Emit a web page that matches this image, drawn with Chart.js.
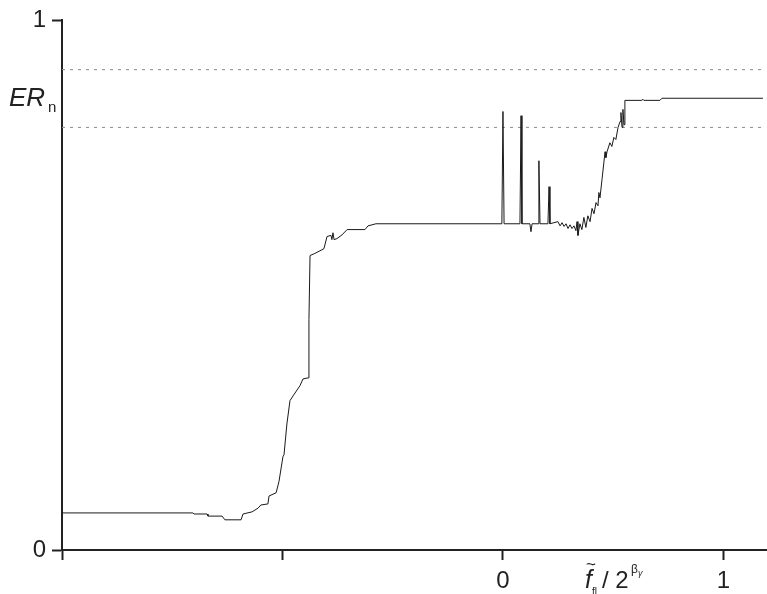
<!DOCTYPE html>
<html lang="en">
<head>
    <meta charset="UTF-8">
    <title>ER_n curve</title>
    <script src="https://cdn.jsdelivr.net/npm/chart.js"></script>
    <style>
        body { margin: 0; padding: 0; background: #fff; }
        #wrap { width: 767px; height: 594px; }
    </style>
</head>
<body>
<div id="wrap"><canvas id="chart" width="767" height="594"></canvas></div>
<script>
    // x values of the curve (in units of f/2^beta)
    const curveX = [
        -2.000, -1.406, -1.401, -1.342, -1.338, -1.274, -1.261, -1.188, -1.179, -1.138,
        -1.111, -1.098, -1.066, -1.061, -1.029, -1.016, -0.998, -0.993, -0.980, -0.966,
        -0.952, -0.921, -0.907, -0.884, -0.880, -0.875, -0.853, -0.830, -0.812, -0.798,
        -0.780, -0.776, -0.771, -0.766, -0.753, -0.730, -0.707, -0.626, -0.612, -0.576,
        -0.009, -0.005, 0.000, 0.005, 0.077, 0.082, 0.086, 0.122, 0.127, 0.132,
        0.159, 0.163, 0.168, 0.204, 0.209, 0.213, 0.249, 0.259, 0.268, 0.277,
        0.286, 0.295, 0.304, 0.313, 0.322, 0.331, 0.336, 0.340, 0.349, 0.358,
        0.367, 0.376, 0.385, 0.395, 0.404, 0.413, 0.422, 0.431, 0.435, 0.440,
        0.449, 0.458, 0.463, 0.467, 0.472, 0.485, 0.494, 0.503, 0.512, 0.522,
        0.531, 0.535, 0.540, 0.544, 0.549, 0.553, 0.630, 0.635, 0.639, 0.712,
        0.721, 1.179
    ];
    // ER_n values of the curve
    const curveY = [
        0.070, 0.070, 0.068, 0.068, 0.064, 0.064, 0.057, 0.057, 0.068, 0.072,
        0.079, 0.085, 0.087, 0.102, 0.108, 0.129, 0.176, 0.180, 0.238, 0.282,
        0.291, 0.310, 0.323, 0.325, 0.435, 0.556, 0.560, 0.565, 0.569, 0.592,
        0.594, 0.586, 0.599, 0.586, 0.588, 0.595, 0.605, 0.605, 0.612, 0.616,
        0.616, 0.616, 0.828, 0.616, 0.616, 0.820, 0.616, 0.616, 0.601, 0.616,
        0.616, 0.735, 0.616, 0.616, 0.686, 0.616, 0.620, 0.612, 0.618, 0.611,
        0.616, 0.607, 0.614, 0.607, 0.612, 0.603, 0.620, 0.594, 0.616, 0.605,
        0.628, 0.609, 0.631, 0.620, 0.645, 0.635, 0.656, 0.650, 0.675, 0.665,
        0.699, 0.733, 0.752, 0.741, 0.752, 0.769, 0.762, 0.779, 0.775, 0.798,
        0.809, 0.826, 0.798, 0.832, 0.803, 0.849, 0.849, 0.851, 0.849, 0.849,
        0.853, 0.853
    ];
    // dotted reference levels
    const refLevels = [0.907, 0.798];

    const xMin = -2, xMax = 1.193;
    const xTickLabels = { '0': '0', '1': '1' };
    const yTickLabels = { '0': '0', '1': '1' };

    const axisColor = '#222';
    const fontFamily = '"Liberation Sans", Arial, sans-serif';

    const datasets = [{
        data: curveX.map((x, i) => ({ x: x, y: curveY[i] })),
        borderColor: '#1a1a1a',
        borderWidth: 1,
        pointRadius: 0,
        showLine: true,
        tension: 0
    }];
    refLevels.forEach(v => {
        datasets.push({
            data: [{ x: xMin, y: v }, { x: xMax, y: v }],
            borderColor: '#8a8a8a',
            borderWidth: 1,
            borderDash: [3, 5],
            pointRadius: 0,
            showLine: true
        });
    });

    // axis titles drawn as text
    const titlePlugin = {
        id: 'titles',
        afterDraw(chart) {
            const ctx = chart.ctx;
            ctx.save();
            ctx.fillStyle = axisColor;
            ctx.textBaseline = 'alphabetic';
            // ER_n
            ctx.font = 'italic 26px ' + fontFamily;
            ctx.fillText('ER', 9, 106);
            ctx.font = '15px ' + fontFamily;
            ctx.fillText('n', 48, 112);
            // f~_fl / 2^(beta_gamma)
            ctx.font = 'italic 25px ' + fontFamily;
            ctx.fillText('f', 585, 588);
            ctx.font = '17px ' + fontFamily;
            ctx.fillText('~', 586, 570);
            ctx.font = '10px ' + fontFamily;
            ctx.fillText('fl', 592, 595);
            ctx.font = '24px ' + fontFamily;
            ctx.fillText('/ 2', 602, 588);
            ctx.font = '12px ' + fontFamily;
            ctx.fillText('\u03B2', 631, 573);
            ctx.font = 'italic 9px ' + fontFamily;
            ctx.fillText('\u03B3', 638, 576);
            ctx.restore();
        }
    };

    new Chart(document.getElementById('chart'), {
        type: 'scatter',
        data: { datasets: datasets },
        options: {
            responsive: false,
            animation: false,
            layout: { padding: { top: 20, right: 1, left: 0, bottom: 0 } },
            plugins: { legend: { display: false }, tooltip: { enabled: false } },
            scales: {
                x: {
                    type: 'linear',
                    min: xMin,
                    max: xMax,
                    border: { color: axisColor, width: 2 },
                    grid: { drawOnChartArea: false, drawTicks: true, tickLength: 10, tickWidth: 2, tickColor: axisColor },
                    ticks: {
                        stepSize: 1,
                        includeBounds: false,
                        autoSkip: false,
                        maxRotation: 0,
                        padding: 7,
                        color: axisColor,
                        font: { family: fontFamily, size: 24 },
                        callback: v => xTickLabels[String(v)] || ''
                    },
                    afterFit: s => { s.height = 44; }
                },
                y: {
                    type: 'linear',
                    min: 0,
                    max: 1,
                    border: { color: axisColor, width: 2 },
                    grid: { drawOnChartArea: false, drawTicks: true, tickLength: 10, tickWidth: 2, tickColor: axisColor },
                    ticks: {
                        stepSize: 1,
                        padding: 6,
                        color: axisColor,
                        font: { family: fontFamily, size: 24 },
                        callback: v => yTickLabels[String(v)] || ''
                    },
                    afterFit: s => { s.width = 62; }
                }
            }
        },
        plugins: [titlePlugin]
    });
</script>
</body>
</html>
